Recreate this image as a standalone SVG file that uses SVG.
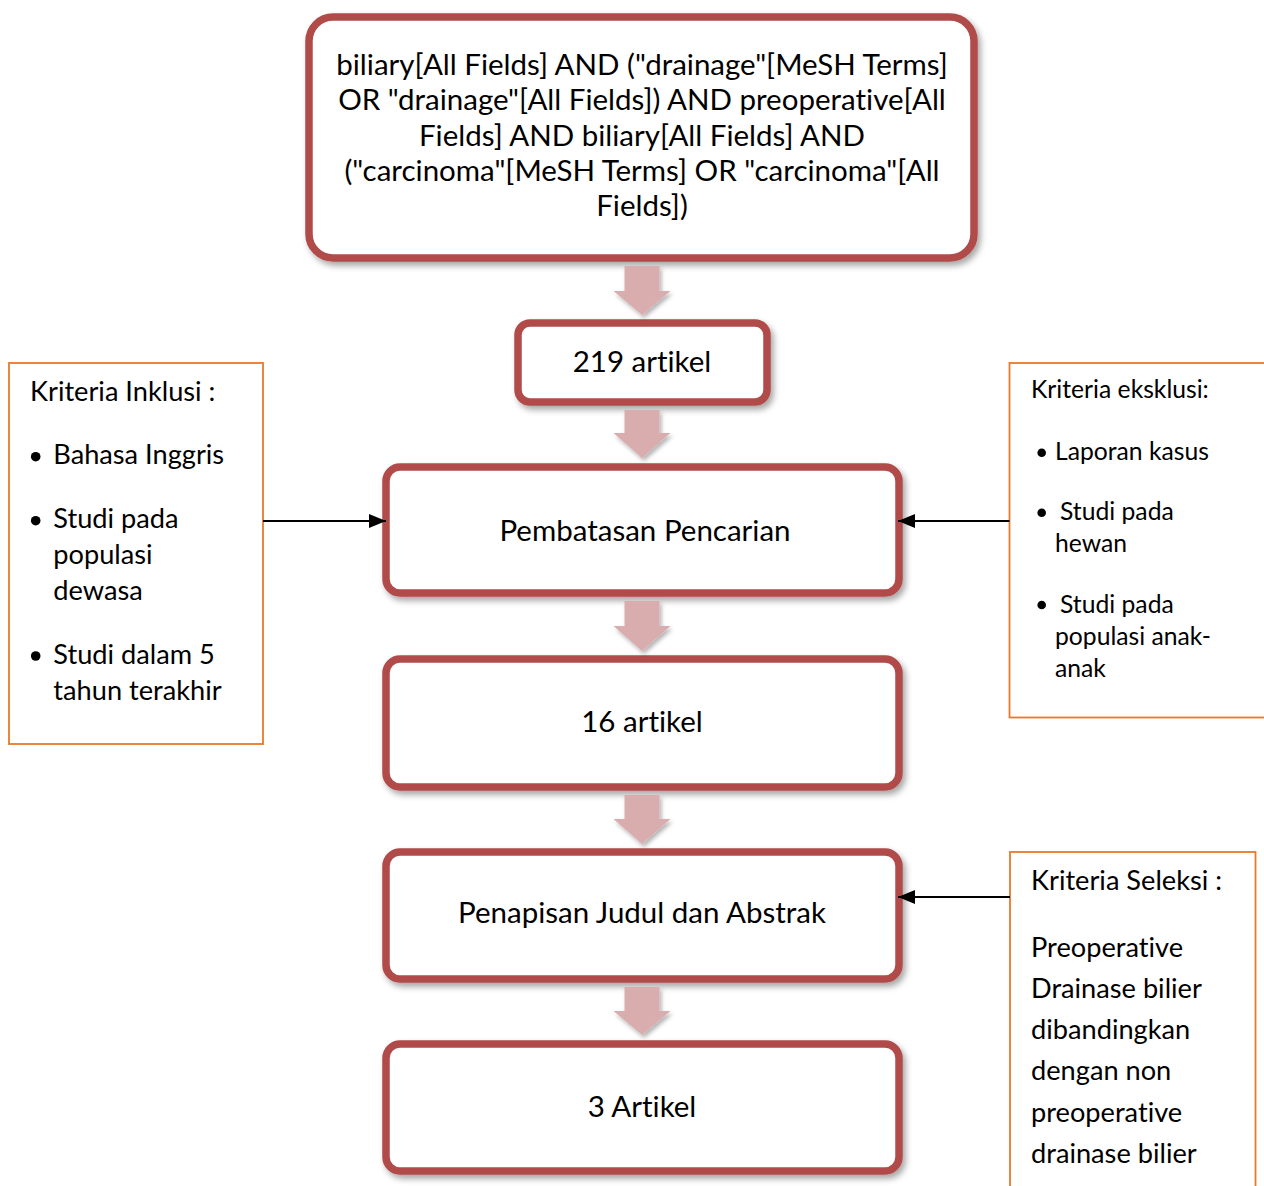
<svg xmlns="http://www.w3.org/2000/svg" width="1264" height="1186" viewBox="0 0 1264 1186">
<style>
.box{fill:#fff;stroke:#b04b49;stroke-width:7.5;filter:url(#sh)}
.blk{fill:#d9adad;filter:url(#sh2)}
.crit{fill:#fff;stroke:#e8792a;stroke-width:1.8}
.conn{stroke:#000;stroke-width:2;fill:none;marker-end:url(#ah)}
text{font-family:Lato,"Open Sans","Liberation Sans",sans-serif;fill:#000;font-variant-ligatures:none;font-feature-settings:"liga" 0}
.c{text-anchor:middle;font-size:29.5px}
.s{font-size:27.2px}
.sm{font-size:24.7px}
</style>
<defs>
<filter id="sh" x="-10%" y="-10%" width="125%" height="130%">
<feDropShadow dx="3" dy="4" stdDeviation="3" flood-color="#000" flood-opacity="0.35"/>
</filter>
<filter id="sh2" x="-20%" y="-20%" width="150%" height="150%">
<feDropShadow dx="2" dy="3" stdDeviation="2" flood-color="#000" flood-opacity="0.3"/>
</filter>
<marker id="ah" markerUnits="userSpaceOnUse" markerWidth="17" markerHeight="14" viewBox="0 0 17 14" refX="17" refY="7" orient="auto">
<path d="M0,0 L17,7 L0,14 z" fill="#000"/>
</marker>
</defs>

<g id="query">
<rect class="box" x="309" y="17" width="665" height="241" rx="24"/>
<text class="c" x="642" y="75">biliary[All Fields] AND ("drainage"[MeSH Terms]</text>
<text class="c" x="642" y="110">OR "drainage"[All Fields]) AND preoperative[All</text>
<text class="c" x="642" y="145.5">Fields] AND biliary[All Fields] AND</text>
<text class="c" x="642" y="181">("carcinoma"[MeSH Terms] OR "carcinoma"[All</text>
<text class="c" x="642" y="216">Fields])</text>
</g>

<g id="n219">
<rect class="box" x="518" y="323" width="249" height="79" rx="12"/>
<text class="c" x="642" y="371.5">219 artikel</text>
</g>

<g id="pembatasan">
<rect class="box" x="386" y="467" width="513" height="126" rx="14"/>
<text class="c" x="645" y="541">Pembatasan Pencarian</text>
</g>

<g id="n16">
<rect class="box" x="386" y="659" width="513" height="128" rx="14"/>
<text class="c" x="642" y="731.5">16 artikel</text>
</g>

<g id="penapisan">
<rect class="box" x="386" y="852" width="513" height="127" rx="14"/>
<text class="c" x="642" y="923">Penapisan Judul dan Abstrak</text>
</g>

<g id="n3">
<rect class="box" x="386" y="1044" width="513" height="127" rx="14"/>
<text class="c" x="642" y="1116.5">3 Artikel</text>
</g>

<g id="inklusi">
<rect class="crit" x="9" y="363" width="254" height="381"/>
<text class="s" x="30" y="400.5">Kriteria Inklusi :</text>
<circle cx="35.7" cy="456.7" r="4.8"/>
<text class="s" x="53.3" y="464.3">Bahasa Inggris</text>
<circle cx="35.7" cy="520.7" r="4.8"/>
<text class="s" x="53.3" y="528.3">Studi pada</text>
<text class="s" x="53.3" y="564">populasi</text>
<text class="s" x="53.3" y="600">dewasa</text>
<circle cx="35.7" cy="656" r="4.8"/>
<text class="s" x="53.3" y="664.3">Studi dalam 5</text>
<text class="s" x="53.3" y="700">tahun terakhir</text>
</g>

<g id="eksklusi">
<rect class="crit" x="1009.5" y="363" width="270" height="354.5"/>
<text class="sm" x="1031" y="398.3">Kriteria eksklusi:</text>
<circle cx="1041.7" cy="452.7" r="4.3"/>
<text class="sm" x="1055" y="460">Laporan kasus</text>
<circle cx="1041.7" cy="512.7" r="4.3"/>
<text class="sm" x="1060" y="520">Studi pada</text>
<text class="sm" x="1055" y="552.3">hewan</text>
<circle cx="1041.7" cy="605" r="4.3"/>
<text class="sm" x="1060" y="612.7">Studi pada</text>
<text class="sm" x="1055" y="645">populasi anak-</text>
<text class="sm" x="1055" y="676.7">anak</text>
</g>

<g id="seleksi">
<rect class="crit" x="1010" y="852" width="245.5" height="345"/>
<text class="s" x="1031" y="890">Kriteria Seleksi :</text>
<text class="s" x="1031" y="956.7">Preoperative</text>
<text class="s" x="1031" y="998.3">Drainase bilier</text>
<text class="s" x="1031" y="1039.3">dibandingkan</text>
<text class="s" x="1031" y="1080">dengan non</text>
<text class="s" x="1031" y="1121.7">preoperative</text>
<text class="s" x="1031" y="1162.7">drainase bilier</text>
</g>

<g id="connectors">
<path class="blk" d="M624.5,266 H659.5 V291 H670.5 L642,315 L613.5,291 H624.5 Z"/>
<path class="blk" d="M624.5,410 H659.5 V433 H670.5 L642,458 L613.5,433 H624.5 Z"/>
<path class="blk" d="M624.5,601 H659.5 V626 H670.5 L642,651 L613.5,626 H624.5 Z"/>
<path class="blk" d="M624.5,795 H659.5 V819 H670.5 L642,844 L613.5,819 H624.5 Z"/>
<path class="blk" d="M624.5,987 H659.5 V1011 H670.5 L642,1035 L613.5,1011 H624.5 Z"/>
<line class="conn" x1="263" y1="521" x2="386" y2="521"/>
<line class="conn" x1="1009.5" y1="521" x2="898" y2="521"/>
<line class="conn" x1="1010" y1="897" x2="898" y2="897"/>
</g>
</svg>
